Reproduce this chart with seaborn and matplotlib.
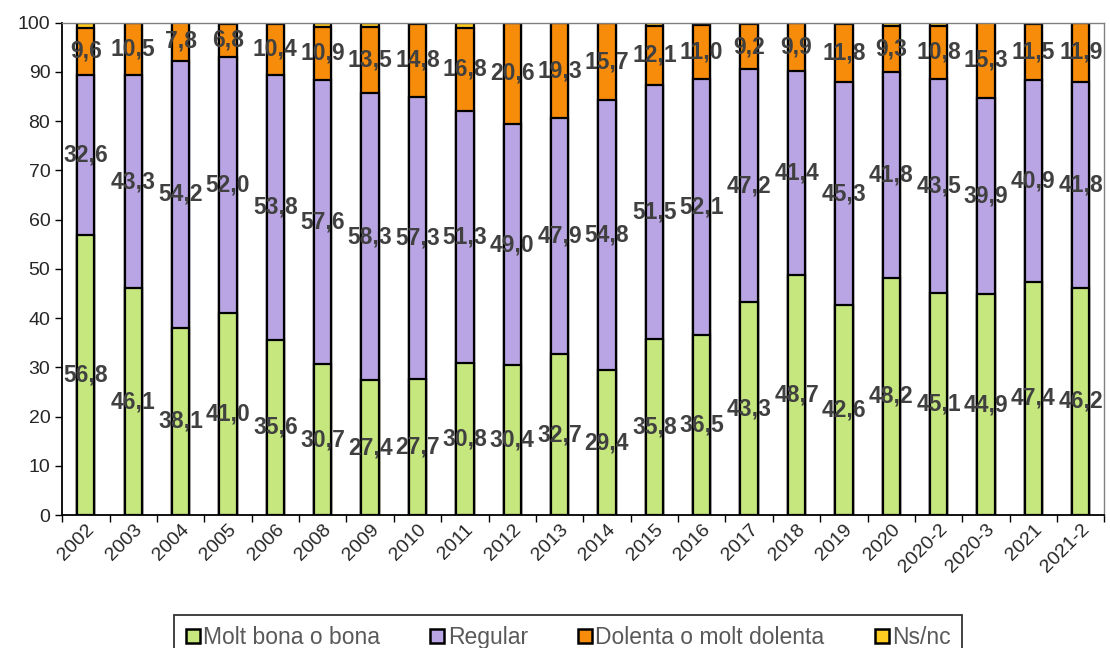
import numpy as np
import pandas as pd
import seaborn as sns
import matplotlib.pyplot as plt

years = ['2002', '2003', '2004', '2005', '2006', '2008', '2009', '2010', '2011', '2012', '2013',
         '2014', '2015', '2016', '2017', '2018', '2019', '2020', '2020-2', '2020-3', '2021', '2021-2']
bona = [56.8, 46.1, 38.1, 41.0, 35.6, 30.7, 27.4, 27.7, 30.8, 30.4, 32.7,
        29.4, 35.8, 36.5, 43.3, 48.7, 42.6, 48.2, 45.1, 44.9, 47.4, 46.2]
regular = [32.6, 43.3, 54.2, 52.0, 53.8, 57.6, 58.3, 57.3, 51.3, 49.0, 47.9,
           54.8, 51.5, 52.1, 47.2, 41.4, 45.3, 41.8, 43.5, 39.9, 40.9, 41.8]
dolenta = [9.6, 10.5, 7.8, 6.8, 10.4, 10.9, 13.5, 14.8, 16.8, 20.6, 19.3,
           15.7, 12.1, 11.0, 9.2, 9.9, 11.8, 9.3, 10.8, 15.3, 11.5, 11.9]
nsnc = [1.0, 0.1, 0.0, 0.2, 0.2, 0.8, 0.8, 0.2, 1.1, 0.0, 0.1,
        0.1, 0.6, 0.4, 0.3, 0.0, 0.3, 0.7, 0.6, 0.0, 0.2, 0.1]

series = ['Molt bona o bona', 'Regular', 'Dolenta o molt dolenta', 'Ns/nc']
colors = ['#C5E77D', '#B9A5E3', '#F78C0A', '#FFCC22']

df = pd.DataFrame({'year': years, series[0]: bona, series[1]: regular,
                   series[2]: dolenta, series[3]: nsnc})
cum = df[series].cumsum(axis=1)

sns.set_style('white')
plt.rcParams['font.family'] = ['Liberation Sans', 'DejaVu Sans']

fig, ax = plt.subplots(figsize=(11.1, 6.48), dpi=100)
fig.subplots_adjust(left=0.056, right=0.995, top=0.965, bottom=0.205)

# stacked bars: draw cumulative totals from top series down
for s, c in reversed(list(zip(series, colors))):
    sns.barplot(x=df['year'], y=cum[s], color=c, width=0.365, edgecolor='black',
                linewidth=1.6, ax=ax, saturation=1)

# value labels centred in each segment
for i in range(len(years)):
    bottom = 0
    for s in series[:3]:
        v = df[s][i]
        ax.text(i, bottom + v / 2, f'{v:.1f}'.replace('.', ','), ha='center', va='center',
                fontsize=16.5, fontweight='bold', color='#404040')
        bottom += v

ax.set_ylim(0, 100)
ax.set_xlim(-0.5, len(years) - 0.5)
ax.set_yticks(range(0, 101, 10))
ax.set_xlabel('')
ax.set_ylabel('')
ax.tick_params(axis='y', labelsize=14, length=5, width=1, color='black', direction='out', left=True)
ax.tick_params(axis='x', labelsize=14, pad=4)
plt.setp(ax.get_xticklabels(), rotation=45, ha='right', rotation_mode='anchor')
ax.set_xticks(np.arange(-0.5, len(years), 1), minor=True)
ax.tick_params(axis='x', which='major', length=0)
ax.tick_params(axis='x', which='minor', length=5, width=1, color='black', bottom=True)

for side in ['left', 'bottom']:
    ax.spines[side].set_color('black')
    ax.spines[side].set_linewidth(1.3)
for side in ['top', 'right']:
    ax.spines[side].set_color('#808080')
    ax.spines[side].set_linewidth(1.0)

handles = [plt.Rectangle((0, 0), 1, 1, facecolor=c, edgecolor='black', linewidth=1.8) for c in colors]
leg = fig.legend(handles, series, loc='lower center', bbox_to_anchor=(0.512, -0.03), ncol=4,
                 fontsize=16.5, frameon=True, fancybox=False, edgecolor='black',
                 handlelength=0.6, handleheight=0.6, handletextpad=0.15, columnspacing=2.2,
                 borderpad=0.5, borderaxespad=0.3)
leg.get_frame().set_linewidth(1.3)
for t in leg.get_texts():
    t.set_color('#595959')

fig.savefig('out.png', dpi=100)
